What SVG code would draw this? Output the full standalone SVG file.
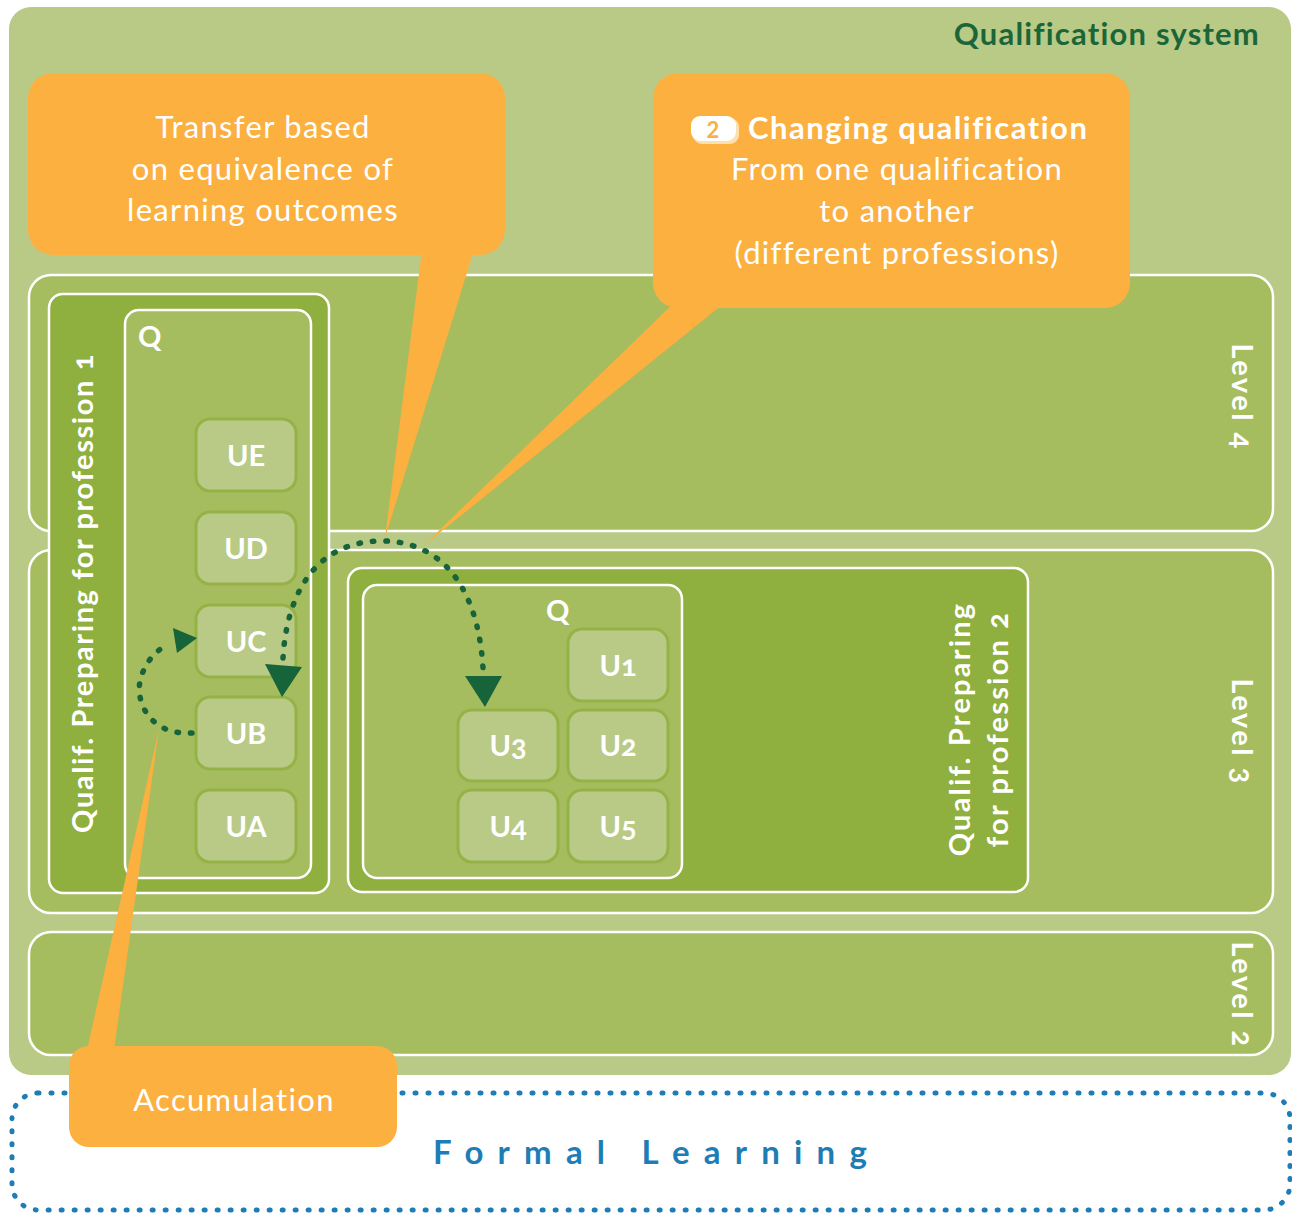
<svg xmlns="http://www.w3.org/2000/svg" width="1292" height="1213" viewBox="0 0 1292 1213">
<style>
.lvl{fill:#a5bd5f;stroke:#fff;stroke-width:2.5}
.qd{fill:#8faf3f;stroke:#fff;stroke-width:2.5}
.qi{fill:#a5bd5f;stroke:#fff;stroke-width:2.5}
.u{fill:#b9ca87;stroke:#95b246;stroke-width:3}
.ut{font-family:Lato,"Liberation Sans",sans-serif;font-weight:bold;font-size:29px;fill:#fff;text-anchor:middle;font-variant-numeric:oldstyle-nums}
.wb{font-family:Lato,"Liberation Sans",sans-serif;font-weight:bold;font-size:29px;fill:#fff;font-variant-numeric:oldstyle-nums}
.co{fill:#fbb040}
.ct{font-family:Lato,"Liberation Sans",sans-serif;font-size:31px;fill:#fff;text-anchor:middle;letter-spacing:1.3px}
.dot{fill:none;stroke:#17633a;stroke-width:5.5;stroke-linecap:round;stroke-dasharray:1.5 12}
.ah{fill:#17633a}
</style>
<g id="qualification-system">
<rect x="9" y="7" width="1282" height="1068" rx="22" fill="#b9ca87"/>
<text x="1260" y="45" text-anchor="end" font-family="Lato,'Liberation Sans',sans-serif" font-weight="bold" font-size="31" letter-spacing="1.2" fill="#1b6638">Qualification system</text>
</g>
<g id="level4"><rect class="lvl" x="29" y="275" width="1244" height="256" rx="22"/>
<text class="wb" transform="translate(1232,397) rotate(90)" text-anchor="middle" letter-spacing="2.5">Level 4</text></g>
<g id="level3"><rect class="lvl" x="29" y="550" width="1244" height="363" rx="22"/>
<text class="wb" transform="translate(1232,732) rotate(90)" text-anchor="middle" letter-spacing="2.5">Level 3</text></g>
<g id="level2"><rect class="lvl" x="29" y="932" width="1244" height="123" rx="22"/>
<text class="wb" transform="translate(1232,995) rotate(90)" text-anchor="middle" letter-spacing="2.5">Level 2</text></g>
<g id="qualif1">
<rect class="qd" x="49" y="294" width="280" height="599" rx="14"/>
<text class="wb" transform="translate(93,593) rotate(-90)" text-anchor="middle" font-size="31" letter-spacing="1.6">Qualif. Preparing for profession 1</text>
<rect class="qi" x="125" y="310" width="186" height="568" rx="14"/>
<text class="wb" x="138" y="347">Q</text>
</g>
<g id="UE"><rect class="u" x="196" y="419" width="100" height="72" rx="14"/><text class="ut" x="246" y="466">UE</text></g>
<g id="UD"><rect class="u" x="196" y="512" width="100" height="72" rx="14"/><text class="ut" x="246" y="559">UD</text></g>
<g id="UC"><rect class="u" x="196" y="605" width="100" height="72" rx="14"/><text class="ut" x="246" y="652">UC</text></g>
<g id="UB"><rect class="u" x="196" y="697" width="100" height="72" rx="14"/><text class="ut" x="246" y="744">UB</text></g>
<g id="UA"><rect class="u" x="196" y="790" width="100" height="72" rx="14"/><text class="ut" x="246" y="837">UA</text></g>
<g id="qualif2">
<rect class="qd" x="348" y="568" width="680" height="324" rx="14"/>
<text class="wb" transform="translate(970,729) rotate(-90)" text-anchor="middle" font-size="31" letter-spacing="2.2">Qualif. Preparing</text>
<text class="wb" transform="translate(1008,729) rotate(-90)" text-anchor="middle" font-size="31" letter-spacing="2.2">for profession 2</text>
<rect class="qi" x="363" y="585" width="319" height="293" rx="14"/>
<text class="wb" x="546" y="621">Q</text>
</g>
<g id="U1"><rect class="u" x="568" y="629" width="100" height="72" rx="14"/><text class="ut" x="618" y="676">U1</text></g>
<g id="U2"><rect class="u" x="568" y="710" width="100" height="71" rx="14"/><text class="ut" x="618" y="756">U2</text></g>
<g id="U3"><rect class="u" x="458" y="710" width="100" height="71" rx="14"/><text class="ut" x="508" y="756">U3</text></g>
<g id="U4"><rect class="u" x="458" y="790" width="100" height="72" rx="14"/><text class="ut" x="508" y="837">U4</text></g>
<g id="U5"><rect class="u" x="568" y="790" width="100" height="72" rx="14"/><text class="ut" x="618" y="837">U5</text></g>
<g id="connectors">
<path class="dot" d="M192,733 C150,736 132,700 142,674 C150,655 160,648 170,644"/>
<polygon class="ah" points="197,638 173,628 177,653"/>
<path class="dot" d="M283,658 C287,590 318,542 380,541 C440,540 478,585 483,668"/>
<polygon class="ah" points="265,664 302,667 282,697"/>
<polygon class="ah" points="465,676 502,676 485,707"/>
</g>
<g id="formal-learning">
<rect x="12" y="1093" width="1278" height="117" rx="26" fill="none" stroke="#1f7db5" stroke-width="5" stroke-linecap="round" stroke-dasharray="1 12"/>
<text x="433" y="1164" font-family="Lato,'Liberation Sans',sans-serif" font-weight="bold" font-size="33" fill="#1f7db5" letter-spacing="14.2">Formal Learning</text>
</g>
<g id="callout-transfer">
<polygon class="co" points="422,250 474,250 385,538"/>
<rect class="co" x="28" y="73" width="477" height="182" rx="25"/>
<text class="ct" x="263" y="138">Transfer based</text>
<text class="ct" x="263" y="180">on equivalence of</text>
<text class="ct" x="263" y="221">learning outcomes</text>
</g>
<g id="callout-changing">
<polygon class="co" points="677,300 728,300 422,547"/>
<rect class="co" x="653" y="73" width="477" height="235" rx="25"/>
<rect x="693" y="118" width="46" height="26" rx="9" fill="#fde0b0"/>
<rect x="691" y="116" width="45" height="25" rx="9" fill="#fff"/>
<text x="713" y="138" text-anchor="middle" font-family="Lato,'Liberation Sans',sans-serif" font-weight="bold" font-size="22" fill="#fbb040">2</text>
<text x="748" y="139" font-family="Lato,'Liberation Sans',sans-serif" font-weight="bold" font-size="31" letter-spacing="1.5" fill="#fff">Changing qualification</text>
<text class="ct" x="897" y="180">From one qualification</text>
<text class="ct" x="897" y="222">to another</text>
<text class="ct" x="897" y="264">(different professions)</text>
</g>
<g id="callout-accumulation">
<polygon class="co" points="87,1050 114,1050 159,729"/>
<rect class="co" x="69" y="1046" width="328" height="101" rx="20"/>
<text class="ct" x="234" y="1111">Accumulation</text>
</g>
</svg>
